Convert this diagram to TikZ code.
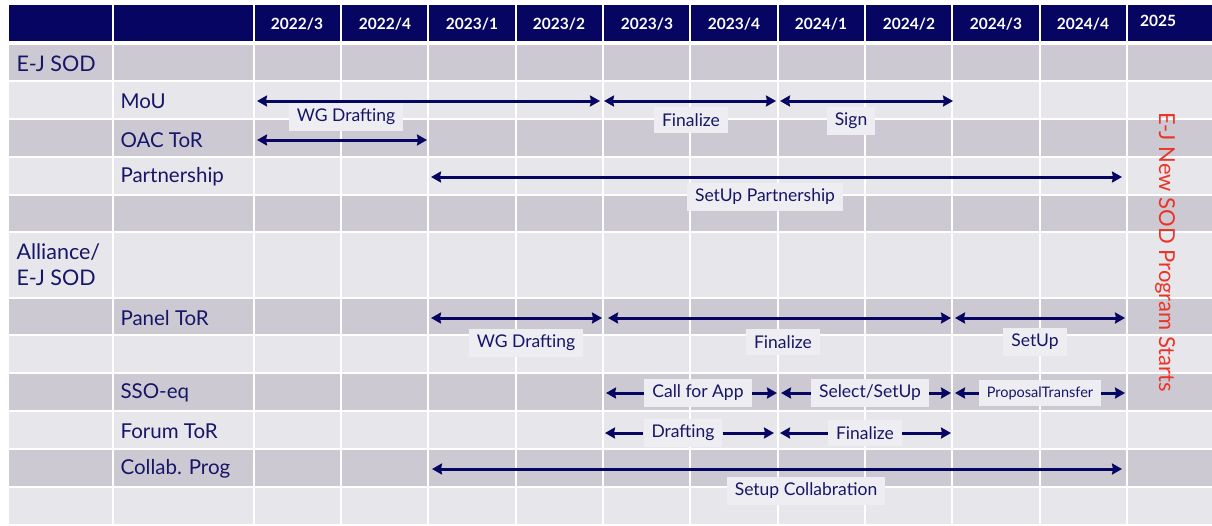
\documentclass[tikz,border=0pt]{standalone}
\usepackage{fontspec}
\setmainfont{Lato}
\usetikzlibrary{arrows.meta, positioning, calc}
\definecolor{navy}{RGB}{6,6,98}
\definecolor{ink}{RGB}{22,22,104}
\definecolor{rowdark}{RGB}{204,201,211}
\definecolor{rowlight}{RGB}{231,230,235}
\definecolor{tagbg}{RGB}{238,237,241}
\definecolor{startred}{RGB}{235,52,40}

\begin{document}
\begin{tikzpicture}[
    x=1pt, y=-1pt,
    hdr/.style={font=\fontsize{15.5}{18}\selectfont\bfseries, text=white},
    group/.style={anchor=west, align=left, text=ink, font=\fontsize{21.5}{26}\selectfont},
    item/.style={anchor=west, text=ink, font=\fontsize{20.5}{24}\selectfont},
    tag/.style={fill=tagbg, text=ink, inner xsep=8pt, inner ysep=6pt, font=\fontsize{17.5}{20}\selectfont},
    grid/.style={white, line width=1.5pt},
    span/.style={{Stealth[length=10pt, width=11pt, inset=1pt]}-{Stealth[length=10pt, width=11pt, inset=1pt]}, navy, line width=3pt},
    half/.style={-{Stealth[length=10pt, width=11pt, inset=1pt]}, navy, line width=3pt}
]
\useasboundingbox (0,0) rectangle (1212,525);

% Zeilen
\fill[navy] (9,5) rectangle (1212,41);
\fill[rowdark] (9,45) rectangle (1212,81);
\fill[rowlight] (9,81) rectangle (1212,119);
\fill[rowdark] (9,119) rectangle (1212,157);
\fill[rowlight] (9,157) rectangle (1212,195);
\fill[rowdark] (9,195) rectangle (1212,232);
\fill[rowlight] (9,232) rectangle (1212,298);
\fill[rowdark] (9,298) rectangle (1212,335);
\fill[rowlight] (9,335) rectangle (1212,373);
\fill[rowdark] (9,373) rectangle (1212,411);
\fill[rowlight] (9,411) rectangle (1212,449);
\fill[rowdark] (9,449) rectangle (1212,487);
\fill[rowlight] (9,487) rectangle (1212,524);

% Gitter
\draw[white, line width=4pt] (9,43) -- (1212,43);
\draw[grid] (9,81) -- (1212,81) (9,119) -- (1212,119) (9,157) -- (1212,157)
    (9,195) -- (1212,195) (9,232) -- (1212,232) (9,298) -- (1212,298)
    (9,335) -- (1212,335) (9,373) -- (1212,373) (9,411) -- (1212,411)
    (9,449) -- (1212,449) (9,487) -- (1212,487);

\coordinate (b0) at (254,0);
\coordinate (b1) at (341,0);
\coordinate (b2) at (428,0);
\coordinate (b3) at (516,0);
\coordinate (b4) at (603,0);
\coordinate (b5) at (690,0);
\coordinate (b6) at (778,0);
\coordinate (b7) at (865,0);
\coordinate (b8) at (952,0);
\coordinate (b9) at (1040,0);
\coordinate (b10) at (1127,0);

\draw[grid] (113,5) -- (113,524) (254,5) -- (254,524) (341,5) -- (341,524)
    (428,5) -- (428,524) (516,5) -- (516,524) (603,5) -- (603,524)
    (690,5) -- (690,524) (778,5) -- (778,524) (865,5) -- (865,524)
    (952,5) -- (952,524) (1040,5) -- (1040,524) (1127,5) -- (1127,524);

% Kopfzeile
\node[hdr] (h1) at (297,24) {2022/3};
\node[hdr] (h2) at (385,24) {2022/4};
\node[hdr] (h3) at (472,24) {2023/1};
\node[hdr] (h4) at (559,24) {2023/2};
\node[hdr] (h5) at (647,24) {2023/3};
\node[hdr] (h6) at (734,24) {2023/4};
\node[hdr] (h7) at (821,24) {2024/1};
\node[hdr] (h8) at (909,24) {2024/2};
\node[hdr] (h9) at (996,24) {2024/3};
\node[hdr] (h10) at (1083,24) {2024/4};
\node[hdr] (h11) at (1158,21) {2025};

% Zeilenkoepfe
\node[group] (ejsod) at (13,64) {E-J SOD};
\node[item] (mou) at (117,101) {MoU};
\node[item] (oac) at (117,140) {OAC ToR};
\node[item] (partner) at (117,177) {Partnership};
\node[group] (alliance) at (13,265) {Alliance/\\E-J SOD};
\node[item] (panel) at (117,318) {Panel ToR};
\node[item] (sso) at (117,393) {SSO-eq};
\node[item] (forum) at (117,431) {Forum ToR};
\node[item] (collab) at (117,469) {Collab. Prog};

% E-J SOD
\draw[span] ([xshift=3pt]b0 |- mou) -- ([xshift=-3pt]b4 |- mou);
\draw[span] ([xshift=1pt]b4 |- mou) -- ([xshift=-2pt]b6 |- mou);
\draw[span] ([xshift=2pt]b6 |- mou) -- ([xshift=1pt]b8 |- mou);
\node[tag] (mouwg) at (346,117) {WG Drafting};
\node[tag] (moufin) at (691,120) {Finalize};
\node[tag] (mousign) at (851,121) {Sign};

\draw[span] ([xshift=3pt]b0 |- oac) -- ([xshift=-1pt]b2 |- oac);

\draw[span] ([xshift=3pt]b2 |- partner) -- ([xshift=-5pt]b10 |- partner);
\node[tag] (partnerset) at (765,197) {SetUp Partnership};

% Alliance / E-J SOD
\draw[span] ([xshift=3pt]b2 |- panel) -- ([xshift=-1pt]b4 |- panel);
\draw[span] ([xshift=5pt]b4 |- panel) -- ([xshift=-1pt]b8 |- panel);
\draw[span] ([xshift=3pt]b8 |- panel) -- ([xshift=-2pt]b10 |- panel);
\node[tag] (panelwg) at (526,343) {WG Drafting};
\node[tag] (panelfin) at (783,342) {Finalize};
\node[tag] (panelset) at (1035,342) {SetUp};

\node[tag] (ssocall) at (698,393) {Call for App};
\node[tag] (ssosel) at (870,393) {Select/SetUp};
\node[tag, font=\fontsize{14.5}{17}\selectfont] (ssoprop) at (1040,393) {ProposalTransfer};
\draw[half] (ssocall.west) -- ([xshift=3pt]b4 |- ssocall);
\draw[half] (ssocall.east) -- ([xshift=-1pt]b6 |- ssocall);
\draw[half] (ssosel.west) -- ([xshift=3pt]b6 |- ssosel);
\draw[half] (ssosel.east) -- ([xshift=-1pt]b8 |- ssosel);
\draw[half] (ssoprop.west) -- ([xshift=3pt]b8 |- ssoprop);
\draw[half] (ssoprop.east) -- ([xshift=-2pt]b10 |- ssoprop);

\node[tag] (forumdraft) at (683,433) {Drafting};
\node[tag] (forumfin) at (865,433) {Finalize};
\draw[half] (forumdraft.west) -- ([xshift=2pt]b4 |- forumdraft);
\draw[half] (forumdraft.east) -- ([xshift=-4pt]b6 |- forumdraft);
\draw[half] (forumfin.west) -- ([xshift=2pt]b6 |- forumfin);
\draw[half] (forumfin.east) -- ([xshift=-1pt]b8 |- forumfin);

\draw[span] ([xshift=4pt]b2 |- collab) -- ([xshift=-5pt]b10 |- collab);
\node[tag] (collabset) at (806,491) {Setup Collabration};

% Programmstart
\node[rotate=-90, text=startred, font=\fontsize{22}{26}\selectfont] (start) at (1165,252) {E-J New SOD Program Starts};

\end{tikzpicture}
\end{document}
